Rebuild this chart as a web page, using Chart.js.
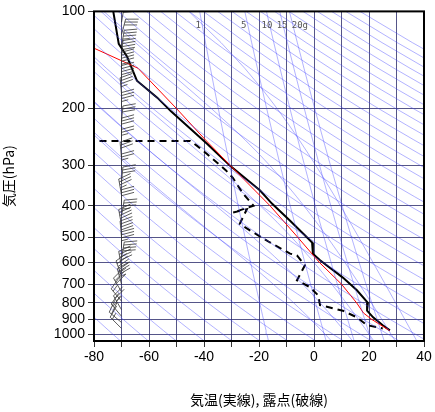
<!DOCTYPE html>
<html><head><meta charset="utf-8">
<script src="https://cdn.jsdelivr.net/npm/chart.js@4"></script>
<style>html,body{margin:0;background:#fff}#wrap{width:435px;height:412px}</style>
</head><body><div id="wrap"><canvas id="c" width="435" height="412"></canvas></div>
<script>
// temperature profile (solid black)
const tempP = [100, 126, 138, 164, 185, 204, 257, 301, 359, 394, 445, 502, 520, 563, 590, 668, 731, 800, 846, 887, 938, 973];
const tempT = [-73, -71, -68, -64.4, -57, -52, -38.9, -30.5, -19.6, -15.3, -8.7, -2.5, -0.7, -0.4, 2.2, 10.5, 15.6, 19.6, 19.3, 21.5, 25, 27.6];
// parcel curve (red)
const parcelP = [130, 150, 200, 250, 300, 400, 500, 600, 700, 800, 860, 900, 975];
const parcelT = [-80, -64, -50, -39.5, -30.5, -16, -6, 2, 10, 15.5, 18, 21, 27.5];
// dew point (dashed)
const dewP = [252, 252, 261, 276, 311, 328, 367, 400, 420, 410, 455, 477, 520, 563, 570, 612, 681, 715, 758, 813, 846, 887, 938, 960];
const dewT = [-78, -45, -42.5, -39, -32, -29.5, -25.8, -22, -29.5, -24.4, -27, -23.3, -16, -8.7, -6.2, -3.3, -6.2, -1.5, 1.5, 2.2, 10.5, 15.6, 19.3, 25];
// wind barbs
const windP = [108, 118, 128, 138, 150, 165, 180, 200, 220, 240, 260, 285, 310, 340, 370, 400, 430, 460, 500, 540, 580, 620, 660, 700, 740, 790, 840, 880, 920, 960];
const windDir = [10, 15, 10, 5, 0, 0, 355, 0, 5, 0, 0, 355, 0, 5, 350, 0, 10, 350, 355, 0, 10, 350, 340, 345, 330, 320, 330, 320, 310, 315];
const windSpd = [30, 30, 35, 40, 45, 40, 35, 35, 30, 30, 25, 30, 25, 30, 35, 30, 35, 40, 40, 35, 40, 40, 45, 35, 30, 15, 25, 20, 20, 15];
// background lines
const thetas = [];
for (let t = 200; t <= 560; t += 10) thetas.push(t);
const mixRatios = [1, 5, 10, 15, 20];
const mixLabels = ['1', '5', '10', '15', '20g'];
const moistStarts = [4, 12, 20, 28, 36];
const yTicks = [100, 200, 300, 400, 500, 600, 700, 800, 900, 1000];

const levels = [];
for (let p = 1050; p >= 100; p -= 25) levels.push(p);
if (levels[levels.length - 1] !== 100) levels.push(100);

function tdFromE(e) {
  const l = Math.log(e / 6.112);
  return 243.5 * l / (17.67 - l);
}
function esat(T) { return 6.112 * Math.exp(17.67 * T / (T + 243.5)); }
function moistRate(T, p) {
  const es = esat(T - 273.15);
  const rs = 0.622 * es / (p - es);
  return (287 * T + 2.5e6 * rs) / (1005 + 2.5e6 * 2.5e6 * rs * 0.622 / (287 * T * T)) / p;
}

const bg = [];
const blue = 'rgba(70,70,255,0.6)';
thetas.forEach(th => {
  bg.push({ data: levels.map(p => ({ x: th * Math.pow(p / 1000, 0.286) - 273.15, y: p })),
    borderColor: blue, borderWidth: 0.7 });
});
mixRatios.forEach(w => {
  bg.push({ data: levels.map(p => ({ x: tdFromE(w / 1000 * p / (0.622 + w / 1000)), y: p })),
    borderColor: blue, borderWidth: 0.7 });
});
moistStarts.forEach(t0 => {
  const pts = [];
  let T = t0 + 273.15;
  for (let q = 1000; q < 1050; q += 5) T += moistRate(T, q) * 5;
  for (let p = 1050; p >= 100; p -= 5) {
    if (p % 25 === 0) pts.push({ x: T - 273.15, y: p });
    T -= moistRate(T, p) * 5;
  }
  bg.push({ data: pts, borderColor: blue, borderWidth: 0.7 });
});

const mk = (P, T) => P.map((p, i) => ({ x: T[i], y: p }));

const barbs = {
  id: 'barbs',
  afterDatasetsDraw(chart) {
    const { ctx, scales: { x, y }, chartArea: a } = chart;
    ctx.save();
    ctx.font = '9px "DejaVu Sans Mono"';
    ctx.fillStyle = '#555';
    ctx.textAlign = 'left';
    const lx = [-42, -25.5, -18, -12.5, -7];
    mixLabels.forEach((s, i) => {
      ctx.fillText(s, x.getPixelForValue(lx[i]) - 3, a.top + 17);
    });
    ctx.beginPath(); ctx.rect(a.left, a.top, a.right - a.left, a.bottom - a.top); ctx.clip();
    ctx.strokeStyle = '#333';
    ctx.lineWidth = 0.8;
    windP.forEach((p, i) => {
      const bx = x.getPixelForValue(-70), by = y.getPixelForValue(p);
      const d = windDir[i] * Math.PI / 180;
      const ux = Math.sin(d), uy = -Math.cos(d);
      const L = 16;
      const tx = bx + ux * L, ty = by + uy * L;
      ctx.beginPath(); ctx.moveTo(bx, by); ctx.lineTo(tx, ty); ctx.stroke();
      const ang = 75 * Math.PI / 180;
      const c = Math.cos(ang), s = Math.sin(ang);
      const vx = ux * c - uy * s, vy = ux * s + uy * c;
      let spd = windSpd[i], k = 0;
      while (spd >= 5) {
        const len = spd >= 10 ? 13 : 7;
        const sx = tx - ux * k * 3, sy = ty - uy * k * 3;
        ctx.beginPath(); ctx.moveTo(sx, sy); ctx.lineTo(sx + vx * len, sy + vy * len); ctx.stroke();
        spd -= spd >= 10 ? 10 : 5; k++;
      }
    });
    ctx.restore();
    ctx.save();
    ctx.strokeStyle = '#000';
    ctx.lineWidth = 2;
    ctx.strokeRect(a.left, a.top, a.right - a.left, a.bottom - a.top);
    ctx.restore();
  }
};

new Chart(document.getElementById('c'), {
  type: 'scatter',
  data: {
    datasets: [
      ...bg.map(d => Object.assign(d, { showLine: true, pointRadius: 0, fill: false })),
      { data: mk(parcelP, parcelT), borderColor: '#ff0000', borderWidth: 1, showLine: true, pointRadius: 0 },
      { data: mk(dewP, dewT), borderColor: '#000', borderWidth: 2, borderDash: [7, 5], showLine: true, pointRadius: 0 },
      { data: mk(tempP, tempT), borderColor: '#000', borderWidth: 2, showLine: true, pointRadius: 0 }
    ]
  },
  options: {
    responsive: false, animation: false,
    layout: { padding: { top: 10, right: 11, left: 0, bottom: 0 } },
    plugins: { legend: { display: false }, tooltip: { enabled: false } },
    scales: {
      x: {
        type: 'linear', min: -80, max: 40,
        afterBuildTicks(ax) { const t = []; for (let v = -80; v <= 40; v += 10) t.push({ value: v }); ax.ticks = t; },
        afterFit(ax) { ax.height = 71; },
        grid: { color: '#2a2a6a', lineWidth: 0.8, tickLength: 6, tickColor: '#000' },
        border: { display: false },
        ticks: { color: '#000', font: { size: 14, family: 'Liberation Sans' }, padding: 2,
          callback: v => (v % 20 === 0 ? String(v) : '') },
        title: { display: true, text: '気温(実線), 露点(破線)', color: '#000',
          font: { size: 14, family: 'Noto Sans CJK JP' }, padding: { top: 14 } }
      },
      y: {
        type: 'logarithmic', reverse: true, min: 100, max: 1050,
        afterBuildTicks(ax) { ax.ticks = yTicks.map(v => ({ value: v })); },
        afterFit(ax) { ax.width = 94; },
        grid: { color: '#2a2a6a', lineWidth: 0.8, tickLength: 6, tickColor: '#000' },
        border: { display: false },
        ticks: { color: '#000', font: { size: 14, family: 'Liberation Sans' }, padding: 3, autoSkip: false,
          callback: v => String(v) },
        title: { display: true, text: '気圧(hPa)', color: '#000',
          font: { size: 14, family: 'Noto Sans CJK JP' }, padding: 0 }
      }
    }
  },
  plugins: [barbs]
});
</script></body></html>
